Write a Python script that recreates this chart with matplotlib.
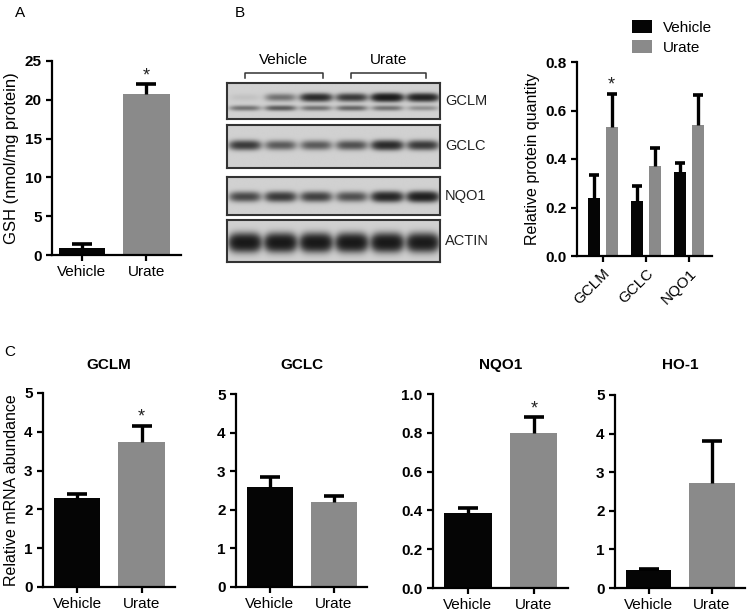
import numpy as np
import matplotlib
matplotlib.use('Agg')
import matplotlib.pyplot as plt

plt.rcParams['font.family'] = ['Liberation Sans', 'DejaVu Sans']

W, H = 750, 613

# ---- data ----
groups = ['Vehicle', 'Urate']
bar_colors = ['#050505', '#8a8a8a']

# A: GSH
gsh_mean = [0.9, 20.8]
gsh_sem = [0.5, 1.2]

# B: protein quantification
proteins = ['GCLM', 'GCLC', 'NQO1']
prot_vehicle = [0.24, 0.225, 0.345]
prot_vehicle_sem = [0.095, 0.065, 0.04]
prot_urate = [0.53, 0.37, 0.54]
prot_urate_sem = [0.14, 0.075, 0.125]

# B: blot band intensities (6 lanes: 3 vehicle, 3 urate)
blot_names = ['GCLM', 'GCLC', 'NQO1', 'ACTIN']
gclm_upper = [0.03, 0.25, 0.7, 0.55, 0.95, 0.8]
gclm_lower = [0.25, 0.35, 0.25, 0.3, 0.25, 0.15]
gclc_band = [0.55, 0.35, 0.35, 0.4, 0.7, 0.55]
nqo1_band = [0.45, 0.55, 0.5, 0.4, 0.75, 0.85]
actin_band = [1.0, 1.0, 1.0, 1.0, 1.0, 0.95]

# C: mRNA
genes = ['GCLM', 'GCLC', 'NQO1', 'HO-1']
mrna_mean = [[2.3, 3.75], [2.6, 2.2], [0.385, 0.80], [0.47, 2.72]]
mrna_sem = [[0.1, 0.4], [0.25, 0.17], [0.025, 0.08], [0.02, 1.1]]
mrna_sig = [True, False, True, False]
mrna_ymax = [5, 5, 1.0, 5]


def px_axes(fig, x0, ytop, x1, ybot):
    return fig.add_axes([x0 / W, 1 - ybot / H, (x1 - x0) / W, (ybot - ytop) / H])


def style_axes(ax):
    for s in ['top', 'right']:
        ax.spines[s].set_visible(False)
    for s in ['left', 'bottom']:
        ax.spines[s].set_linewidth(1.6)
    ax.tick_params(direction='out', length=4, width=1.6, labelsize=11)
    for lab in ax.get_yticklabels():
        lab.set_fontweight('bold')


def up_err(ax, x, mean, sem, capsize):
    # only the upper half of the error bar, like GraphPad
    _, caps, _ = ax.errorbar(x, mean, yerr=[[0] * len(sem), sem], fmt='none',
                             ecolor='black', elinewidth=2.4, capsize=capsize,
                             capthick=2.6, zorder=3)
    caps[0].set_visible(False)


def two_bar(ax, mean, sem, sig, ymax, yticks, fmt):
    x = np.arange(len(mean))
    ax.bar(x, mean, width=0.72, color=bar_colors, zorder=2)
    up_err(ax, x, mean, sem, 7)
    if sig:
        ax.text(1, mean[1] + sem[1], '*', ha='center', va='bottom', fontsize=13,
                color='#222222')
    ax.set_xlim(-0.53, 1.52)
    ax.set_ylim(0, ymax)
    ax.set_yticks(yticks)
    ax.set_yticklabels([fmt.format(v) for v in yticks])
    ax.set_xticks(x)
    ax.set_xticklabels(groups, fontsize=11.5)
    style_axes(ax)


fig = plt.figure(figsize=(W / 100, H / 100), dpi=100)

# ---- panel A ----
fig.text(20 / W, 1 - 13 / H, 'A', fontsize=11, va='center', ha='center')
ax_a = px_axes(fig, 52, 61, 181, 255)
two_bar(ax_a, gsh_mean, gsh_sem, True, 25, [0, 5, 10, 15, 20, 25], '{:d}')
ax_a.set_xlim(-0.465, 1.535)
ax_a.set_ylabel('GSH (nmol/mg protein)', fontsize=12)

# ---- panel B: blot ----
fig.text(240 / W, 1 - 13 / H, 'B', fontsize=11, va='center', ha='center')

strips = [(83, 119), (125, 168), (177, 215), (220, 262)]
lane_bands = [
    [(gclm_upper, 0.40, 0.10), (gclm_lower, 0.70, 0.07)],
    [(gclc_band, 0.47, 0.10)],
    [(nqo1_band, 0.52, 0.12)],
    [(actin_band, 0.55, 0.18)],
]
xs = np.linspace(0, 6, 300)
for (ytop, ybot), bands, name in zip(strips, lane_bands, blot_names):
    ax = px_axes(fig, 227, ytop, 440, ybot)
    ys = np.linspace(0, 1, 80)
    X, Y = np.meshgrid(xs, ys)
    dens = np.zeros_like(X)
    for inten, yc, sy in bands:
        for i, v in enumerate(inten):
            dens += 2.6 * v * np.exp(-((X - (i + 0.5)) / 0.42) ** 4) * \
                np.exp(-((Y - yc) / sy) ** 2)
    dark = 1 - np.exp(-dens)
    img = 0.82 - 0.78 * dark
    ax.imshow(img, cmap='gray', vmin=0, vmax=1, extent=(0, 6, 1, 0),
              aspect='auto', interpolation='bilinear')
    ax.set_xticks([])
    ax.set_yticks([])
    for s in ax.spines.values():
        s.set_linewidth(1.5)
        s.set_color('#333333')
    fig.text(445 / W, 1 - (ytop + ybot) / 2 / H, name, fontsize=10.5,
             va='center', ha='left', color='#222222')

ax_h = px_axes(fig, 227, 45, 440, 82)
ax_h.set_xlim(0, 6)
ax_h.set_ylim(82, 45)
ax_h.axis('off')
for (a, b), lab in zip([(0.5, 2.7), (3.5, 5.6)], groups):
    ax_h.plot([a, a, b, b], [78, 73, 73, 78], color='#333333', lw=1.1)
    ax_h.text((a + b) / 2, 60, lab, ha='center', va='center', fontsize=11)

# ---- panel B: quantification ----
ax_b = px_axes(fig, 577, 62, 712, 256)
xb = np.arange(len(proteins))
off = 0.2
ax_b.bar(xb - off, prot_vehicle, width=0.28, color=bar_colors[0], label='Vehicle', zorder=2)
ax_b.bar(xb + off, prot_urate, width=0.28, color=bar_colors[1], label='Urate', zorder=2)
up_err(ax_b, xb - off, prot_vehicle, prot_vehicle_sem, 3.5)
up_err(ax_b, xb + off, prot_urate, prot_urate_sem, 3.5)
ax_b.text(xb[0] + off, prot_urate[0] + prot_urate_sem[0], '*', ha='center',
          va='bottom', fontsize=13, color='#222222')
ax_b.set_xlim(-0.605, 2.535)
ax_b.set_ylim(0, 0.8)
yt = [0.0, 0.2, 0.4, 0.6, 0.8]
ax_b.set_yticks(yt)
ax_b.set_yticklabels(['{:.1f}'.format(v) for v in yt])
ax_b.set_xticks(xb)
ax_b.set_xticklabels(proteins, rotation=45, ha='right', rotation_mode='anchor',
                     fontsize=10.5)
ax_b.set_ylabel('Relative protein quantity', fontsize=11.5)
style_axes(ax_b)
ax_b.legend(loc='upper left', bbox_to_anchor=(632 / W, 1 - 20 / H),
            bbox_transform=fig.transFigure, frameon=False, fontsize=11,
            handlelength=1.3, handleheight=0.9, handletextpad=0.7,
            borderpad=0, borderaxespad=0, labelspacing=0.35)

# ---- panel C ----
fig.text(10 / W, 1 - 352 / H, 'C', fontsize=11, va='center', ha='center')
c_pos = [(43, 393, 175, 587), (236, 394, 367, 587), (433, 394, 568, 588),
         (615, 395, 745, 588)]
for k, (pos, gene) in enumerate(zip(c_pos, genes)):
    ax = px_axes(fig, *pos)
    ymax = mrna_ymax[k]
    if ymax == 1.0:
        ticks, fmt = [0.0, 0.2, 0.4, 0.6, 0.8, 1.0], '{:.1f}'
    else:
        ticks, fmt = [0, 1, 2, 3, 4, 5], '{:d}'
    two_bar(ax, mrna_mean[k], mrna_sem[k], mrna_sig[k], ymax, ticks, fmt)
    fig.text((pos[0] + pos[2]) / 2 / W, 1 - 365 / H, gene, fontsize=11,
             fontweight='bold', ha='center', va='center')
    if k == 0:
        ax.set_ylabel('Relative mRNA abundance', fontsize=11.5)

fig.savefig('out.png', dpi=100)
